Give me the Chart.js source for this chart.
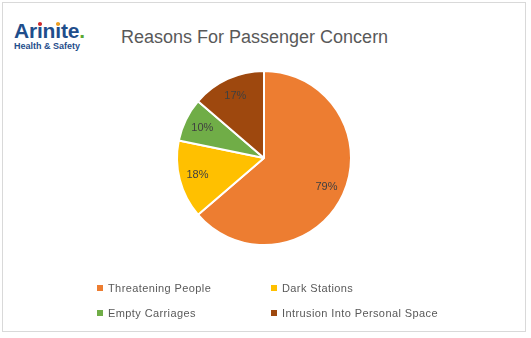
<!DOCTYPE html>
<html>
<head>
<meta charset="utf-8">
<script src="https://cdn.jsdelivr.net/npm/chart.js@4/dist/chart.umd.min.js"></script>
<style>
  html, body { margin: 0; padding: 0; background: #fff; }
  #wrap { position: relative; width: 531px; height: 338px; overflow: hidden; font-family: "Liberation Sans", Arial, sans-serif; }
  #frame { position: absolute; left: 2px; top: 2px; width: 524px; height: 330px; border: 1px solid #d9d9d9; box-sizing: border-box; }
  #logo { position: absolute; left: 14px; top: 20px; color: #1f4e8c; font-weight: bold; }
  #logo .big { position: relative; font-size: 21px; line-height: 21px; letter-spacing: -0.2px; }
  #logo .dot { position: absolute; width: 4px; height: 4px; border-radius: 2px; top: 3px; }
  #logo .small { font-size: 9px; line-height: 10px; }
  #title { position: absolute; left: 121px; top: 27px; font-size: 18px; color: #595959; white-space: nowrap; }
  #chart { position: absolute; left: 0; top: 0; width: 531px; height: 338px; }
  .leg { position: absolute; font-size: 11px; letter-spacing: 0.4px; color: #595959; white-space: nowrap; }
  .leg i { display: inline-block; width: 6px; height: 6px; margin-right: 5px; vertical-align: 1px; }
</style>
</head>
<body>
<div id="wrap">
  <div id="frame"></div>
  <div id="logo">
    <div class="big">Ar<span style="position:relative">i<span class="dot" style="left:1px;background:#d62a2a"></span></span>n<span style="position:relative">i<span class="dot" style="left:1px;background:#f0a020"></span></span>te<span style="color:#5aa832">.</span></div>
    <div class="small">Health &amp; Safety</div>
  </div>
  <div id="title">Reasons For Passenger Concern</div>
  <div id="chart"><canvas id="pie"></canvas></div>
  <div id="legend"></div>
</div>
<script>
const categories = ['Threatening People', 'Dark Stations', 'Empty Carriages', 'Intrusion Into Personal Space'];
const values = [79, 18, 10, 17];
const colors = ['#ED7D31', '#FFC000', '#70AD47', '#9E480E'];

// value labels inside each slice
const sliceLabels = {
  id: 'sliceLabels',
  afterDatasetsDraw(chart) {
    const ctx = chart.ctx;
    const meta = chart.getDatasetMeta(0);
    ctx.save();
    ctx.font = '11px "Liberation Sans", Arial, sans-serif';
    ctx.fillStyle = '#404040';
    ctx.textAlign = 'center';
    ctx.textBaseline = 'middle';
    meta.data.forEach((arc, i) => {
      const p = arc.getProps(['x', 'y', 'startAngle', 'endAngle', 'outerRadius']);
      const a = (p.startAngle + p.endAngle) / 2;
      const r = p.outerRadius * 0.79;
      ctx.fillText(values[i] + '%', p.x + Math.cos(a) * r, p.y + Math.sin(a) * r);
    });
    ctx.restore();
  }
};

new Chart(document.getElementById('pie'), {
  type: 'pie',
  data: {
    labels: categories,
    datasets: [{
      data: values,
      backgroundColor: colors,
      borderColor: '#ffffff',
      borderWidth: 2,
      hoverOffset: 0
    }]
  },
  options: {
    responsive: true,
    maintainAspectRatio: false,
    animation: false,
    layout: { padding: { left: 176, right: 179, top: 70, bottom: 92 } },
    plugins: {
      legend: { display: false },
      tooltip: { enabled: false }
    }
  },
  plugins: [sliceLabels]
});

// two-column legend under the pie
const legPos = [[97, 282], [271, 282], [97, 307], [271, 307]];
const legend = document.getElementById('legend');
categories.forEach((c, i) => {
  const d = document.createElement('div');
  d.className = 'leg';
  d.style.left = legPos[i][0] + 'px';
  d.style.top = legPos[i][1] + 'px';
  d.innerHTML = '<i style="background:' + colors[i] + '"></i>' + c;
  legend.appendChild(d);
});
</script>
</body>
</html>
